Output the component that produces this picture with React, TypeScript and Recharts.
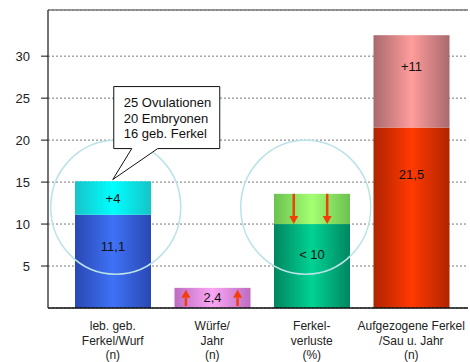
import { BarChart, Bar, XAxis, YAxis, CartesianGrid, ReferenceLine, ReferenceDot, LabelList, Cell } from "recharts";

// Kennzahlen der Sauenherde
const categories = [
  "leb. geb.\nFerkel/Wurf\n(n)",
  "Würfe/\nJahr\n(n)",
  "Ferkel-\nverluste\n(%)",
  "Aufgezogene Ferkel\n/Sau u. Jahr\n(n)",
];
const baseValues = [11.1, 2.4, 10, 21.5];
const topValues = [4, 0, 3.6, 11];
const baseLabels = ["11,1", "2,4", "< 10", "21,5"];
const topLabels = ["+4", "", "", "+11"];
const yTicks = [5, 10, 15, 20, 25, 30];
const calloutLines = ["25 Ovulationen", "20 Embryonen", "16 geb. Ferkel"];

const FONT = "'Liberation Sans', Arial, Helvetica, sans-serif";
const Y_MAX = 35.5;
const CIRCLE_CENTER = 12;

// horizontal "cylinder" gradients: dark edge, light centre, dark edge
const gradients: Record<string, [string, string]> = {
  gBlue: ["#2a48b4", "#3f72f6"],
  gCyan: ["#16c4c8", "#00ffff"],
  gPink: ["#bd6cc0", "#f9a6f4"],
  gGreen: ["#008660", "#00d393"],
  gLime: ["#6cc250", "#a4ff72"],
  gRed: ["#b02400", "#ff3a00"],
  gSalmon: ["#a86a6e", "#ff9c9c"],
};
const baseFills = ["url(#gBlue)", "url(#gPink)", "url(#gGreen)", "url(#gRed)"];
const topFills = ["url(#gCyan)", "url(#gPink)", "url(#gLime)", "url(#gSalmon)"];

const data = categories.map((name, i) => ({
  name,
  base: baseValues[i],
  top: topValues[i],
  baseLabel: baseLabels[i],
  topLabel: topLabels[i],
}));

const ARROW = "#f63c08";

function Arrow({ x, y1, y2 }: { x: number; y1: number; y2: number }) {
  // arrow from y1 to y2, head at y2
  const dir = y2 > y1 ? 1 : -1;
  const head = 8;
  return (
    <g>
      <line x1={x} y1={y1} x2={x} y2={y2 - dir * head} stroke={ARROW} strokeWidth={2.5} />
      <polygon points={`${x - 4.5},${y2 - dir * head} ${x + 4.5},${y2 - dir * head} ${x},${y2}`} fill={ARROW} />
    </g>
  );
}

function BaseShape(props: any) {
  const { x, y, width, height, fill, index } = props;
  if (!height) return null;
  return (
    <g>
      <rect x={x} y={y} width={width} height={height} fill={fill} />
      {index === 1 && (
        <>
          <Arrow x={x + width * 0.15} y1={y + height - 2} y2={y + 2} />
          <Arrow x={x + width * 0.83} y1={y + height - 2} y2={y + 2} />
        </>
      )}
    </g>
  );
}

function TopShape(props: any) {
  const { x, y, width, height, fill, index } = props;
  if (!height) return null;
  return (
    <g>
      <rect x={x} y={y} width={width} height={height} fill={fill} />
      {index === 2 && (
        <>
          <Arrow x={x + width * 0.26} y1={y} y2={y + height} />
          <Arrow x={x + width * 0.7} y1={y} y2={y + height} />
        </>
      )}
    </g>
  );
}

function segmentLabel(props: any) {
  const { x, y, width, height, value } = props;
  if (!value) return null;
  // short segments: centred; tall ones: upper part
  const cy = height < 60 ? y + height / 2 : y + 16 + height * 0.17;
  return (
    <text x={x + width / 2} y={cy} textAnchor="middle" dominantBaseline="central" fontSize={13} fill="#111" fontFamily={FONT}>
      {value}
    </text>
  );
}

function CategoryTick(props: any) {
  const { x, y, payload } = props;
  const lines = String(payload.value).split("\n");
  return (
    <text x={x} y={y + 14} textAnchor="middle" fontSize={12} fill="#222" fontFamily={FONT}>
      {lines.map((l, i) => (
        <tspan key={i} x={x} dy={i === 0 ? 0 : 14.5}>
          {l}
        </tspan>
      ))}
    </text>
  );
}

function Ring(dx: number) {
  return (props: any) => (
    <ellipse cx={props.cx + dx} cy={props.cy} rx={65} ry={67} fill="none" stroke="#b9e3e8" strokeWidth={1.5} />
  );
}

function Callout(props: any) {
  const { cx, cy } = props;
  const left = cx + 1;
  const top = cy - 93;
  const bottom = cy - 31;
  const right = left + 106;
  const path = `M${left},${top} H${right} V${bottom} H${cx + 45} L${cx},${cy} L${cx + 19},${bottom} H${left} Z`;
  return (
    <g>
      <path d={path} fill="#fff" stroke="#111" strokeWidth={1} />
      {calloutLines.map((l, i) => (
        <text key={i} x={left + 10} y={top + 16 + i * 15.5} dominantBaseline="central" fontSize={13} fill="#111" fontFamily={FONT}>
          {l}
        </text>
      ))}
    </g>
  );
}

export default function App() {
  return (
    <div style={{ position: "absolute", left: 0, top: 0, width: 470, height: 362, background: "#fff" }}>
      <BarChart width={470} height={362} data={data} margin={{ top: 10, right: 2, left: 0, bottom: 0 }}>
        <defs>
          {Object.entries(gradients).map(([id, [edge, mid]]) => (
            <linearGradient key={id} id={id} x1="0" y1="0" x2="1" y2="0">
              <stop offset="0%" stopColor={edge} />
              <stop offset="50%" stopColor={mid} />
              <stop offset="100%" stopColor={edge} />
            </linearGradient>
          ))}
        </defs>
        <CartesianGrid vertical={false} strokeDasharray="2 2" stroke="#777" />
        <ReferenceLine y={Y_MAX} stroke="#777" strokeWidth={1.5} />
        <XAxis
          dataKey="name"
          interval={0}
          height={54}
          tickLine={false}
          axisLine={{ stroke: "#111", strokeWidth: 1.5 }}
          tick={<CategoryTick />}
          padding={{ left: 15, right: 7 }}
        />
        <YAxis
          width={48}
          domain={[0, Y_MAX]}
          ticks={yTicks}
          interval={0}
          tickSize={7}
          tickMargin={11}
          tickLine={{ stroke: "#111" }}
          axisLine={{ stroke: "#444", strokeWidth: 1.5 }}
          tick={{ fontSize: 13, fill: "#222", fontFamily: FONT }}
        />
        <Bar dataKey="base" stackId="s" barSize={76} isAnimationActive={false} shape={<BaseShape />}>
          {data.map((_, i) => (
            <Cell key={i} fill={baseFills[i]} />
          ))}
          <LabelList dataKey="baseLabel" content={segmentLabel} />
        </Bar>
        <Bar dataKey="top" stackId="s" barSize={76} isAnimationActive={false} shape={<TopShape />}>
          {data.map((_, i) => (
            <Cell key={i} fill={topFills[i]} />
          ))}
          <LabelList dataKey="topLabel" content={segmentLabel} />
        </Bar>
        <ReferenceDot x={categories[0]} y={CIRCLE_CENTER} r={66} shape={Ring(3)} />
        <ReferenceDot x={categories[2]} y={CIRCLE_CENTER} r={66} shape={Ring(-6)} />
        <ReferenceDot x={categories[0]} y={baseValues[0] + topValues[0] + 0.2} r={1} shape={Callout} />
      </BarChart>
    </div>
  );
}
